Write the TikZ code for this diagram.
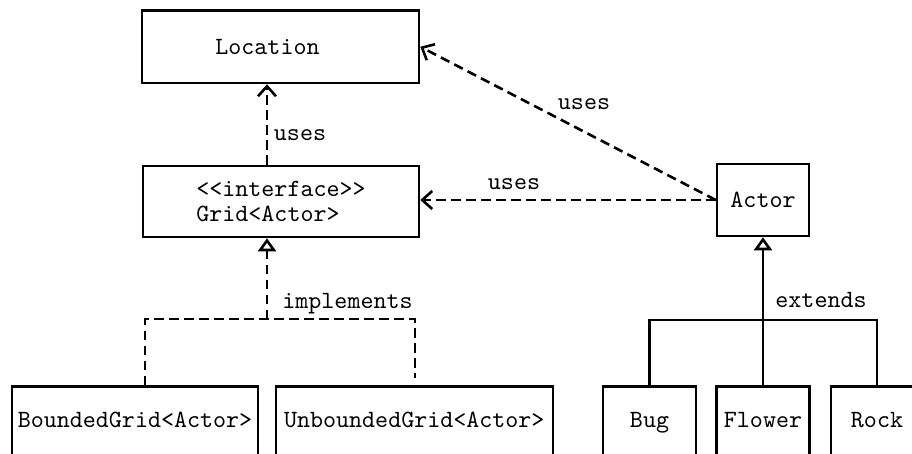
\documentclass[tikz,border=0pt]{standalone}
\usepackage{fontspec}
\setmonofont{lmmono10-regular.otf}
\usetikzlibrary{arrows.meta}
\begin{document}
\begin{tikzpicture}[x=1pt,y=-1pt,
  txt/.style={font=\ttfamily\fontsize{24.8}{25}\selectfont, inner sep=0pt},
  cls/.style={txt, draw, line width=2.6pt},
  low/.style={cls, anchor=north, text height=41pt, text depth=74pt},
  dep/.style={line width=2.6pt, dash pattern=on 9.5pt off 5.5pt},
  uses/.style={dep, -{Straight Barb[length=10pt,width=18pt]}},
  impl/.style={dep, -{Triangle[open,length=13pt,width=18pt]}},
  ext/.style={line width=2.6pt, -{Triangle[open,length=13pt,width=18pt]}},
  tree/.style={line width=2.6pt},
  lab/.style={txt, anchor=base}]
\clip (0,0) rectangle (912,454);
\fill[white] (0,0) rectangle (912,454);

% classes
\node[cls, minimum width=277pt, minimum height=72.5pt] (loc) at (280.5,46.75) {Location\hphantom{xx}};
\node[cls, minimum width=276pt, minimum height=71pt, align=left] (grid) at (281,201.5) {<<interface>>\\Grid<Actor>};
\node[cls, minimum width=92pt, minimum height=72pt] (actor) at (763,200) {Actor};
\node[low, minimum width=246pt] (bg) at (135,385) {BoundedGrid<Actor>};
\node[low, minimum width=277pt] (ug) at (414.3,385) {UnboundedGrid<Actor>};
\node[low, minimum width=93pt] (bug) at (649.5,385) {Bug};
\node[low, minimum width=92.5pt] (flower) at (763,385) {Flower};
\node[low, minimum width=92pt] (rock) at (877,385) {Rock};

% helper coordinates
\coordinate (gx) at (267,0);
\coordinate (ij) at (267,319);
\coordinate (bx) at (145,0);
\coordinate (ue) at (415,378);
\coordinate (ej) at (763,320);

% uses
\draw[uses] (gx |- grid.north) -- (gx |- loc.south);
\draw[uses] (actor.west) -- (actor.west -| grid.east);
\draw[uses] (actor.west) -- (loc.east);

% implements
\draw[dep] (bx |- bg.north) |- (ij) -| (ue);
\draw[impl] (ij) -- (ij |- grid.south);

% extends
\draw[tree] (bug.north) |- (ej) -| (rock.north);
\draw[ext] (flower.north) -- (actor.south);

% labels
\node[lab] (l1) at (300,140.5) {uses};
\node[lab] (l2) at (514,190) {uses};
\node[lab] (l3) at (584,110) {uses};
\node[lab] (l4) at (347.5,308) {implements};
\node[lab] (l5) at (821,307.3) {extends};
\end{tikzpicture}
\end{document}
